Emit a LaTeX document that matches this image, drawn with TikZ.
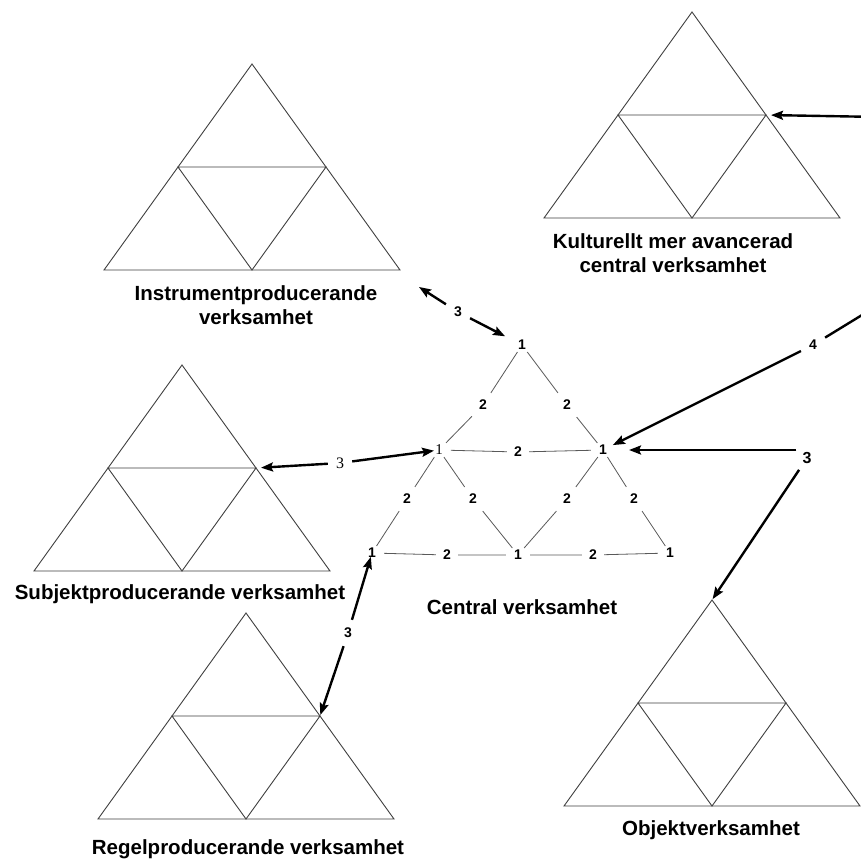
\documentclass[tikz,border=0pt]{standalone}
\usepackage{fontspec}
\setmainfont{Liberation Sans}
\newfontfamily\numserif{Liberation Serif}
\usetikzlibrary{arrows.meta}
\begin{document}
\begin{tikzpicture}[x=1pt,y=-1pt,
  triline/.style={draw=black!75,line width=0.9pt,line join=miter},
  title/.style={font=\fontsize{20.5}{24}\selectfont\bfseries,align=center,inner sep=0pt},
  vnum/.style={font=\fontsize{14}{14}\selectfont\bfseries,inner xsep=8pt,inner ysep=2pt},
  snum/.style={font=\fontsize{15}{15}\selectfont\numserif,inner xsep=8pt,inner ysep=2pt},
  enum/.style={font=\fontsize{14}{14}\selectfont\bfseries,inner sep=7pt},
  cline/.style={draw=black!65,line width=0.8pt},
  arr/.style={draw=black,line width=2.4pt,-{Stealth[length=12pt,width=9pt,inset=2pt]}},
  plainarr/.style={draw=black,line width=2.4pt},
  alab/.style={font=\fontsize{14}{14}\selectfont\bfseries,inner sep=8pt},
  tri/.pic={
    \draw[triline] (0,0) -- (148,206) -- (-148,206) -- cycle;
    \draw[triline] (-74,103) -- (74,103) -- (0,206) -- cycle;
    \coordinate (-top) at (0,0);
    \coordinate (-l) at (-74,103);
    \coordinate (-r) at (74,103);
  }]
\useasboundingbox (0,0) rectangle (860,861);
\fill[white] (0,0) rectangle (860,861);

% surrounding triangles
\pic (I) at (252,64) {tri};
\pic (K) at (692,12) {tri};
\pic (S) at (182,365) {tri};
\pic (R) at (246,613) {tri};
\pic (O) at (712,600) {tri};

% titles
\node[title] (tI) at (256,305) {Instrumentproducerande\\verksamhet};
\node[title] (tK) at (673,253) {Kulturellt mer avancerad\\central verksamhet};
\node[title] (tS) at (180,594) {Subjektproducerande verksamhet};
\node[title] (tC) at (522,607) {Central verksamhet};
\node[title] (tR) at (248,849) {Regelproducerande verksamhet};
\node[title] (tO) at (711,830) {Objektverksamhet};

% central triangle vertices
\node[vnum] (t)  at (522,345) {1};
\node[snum] (ml) at (439,450) {1};
\node[vnum] (mr) at (603,450) {1};
\node[vnum] (bl) at (372,553) {1};
\node[vnum] (bm) at (518,555) {1};
\node[vnum] (br) at (670,553) {1};

% central edge labels
\node[enum] (e1) at (483,405) {2};
\node[enum] (e2) at (567,405) {2};
\node[enum] (e3) at (518,452) {2};
\node[enum] (e4) at (407,499) {2};
\node[enum] (e5) at (473,499) {2};
\node[enum] (e6) at (567,499) {2};
\node[enum] (e7) at (634,499) {2};
\node[enum] (e8) at (447,555) {2};
\node[enum] (e9) at (593,555) {2};

\draw[cline] (t) -- (e1) -- (ml);
\draw[cline] (t) -- (e2) -- (mr);
\draw[cline] (ml) -- (e3) -- (mr);
\draw[cline] (ml) -- (e4) -- (bl);
\draw[cline] (ml) -- (e5) -- (bm);
\draw[cline] (mr) -- (e6) -- (bm);
\draw[cline] (mr) -- (e7) -- (br);
\draw[cline] (bl) -- (e8) -- (bm);
\draw[cline] (bm) -- (e9) -- (br);

% arrow labels
\node[alab] (a3I) at (458,312) {3};
\node[alab,font=\fontsize{16}{16}\selectfont\numserif] (a3S) at (340,463) {3};
\node[alab] (a3R) at (348,633) {3};
\node[alab] (a4) at (813,345) {4};
\node[alab,font=\fontsize{16}{16}\selectfont\bfseries,inner sep=6pt] (a3O) at (807,458) {3};

\coordinate (iend) at (419,287);
\coordinate (ck) at (880,117);
\coordinate (c4) at (880,304);

% arrows
\draw[arr] (a3I) -- (iend);
\draw[arr,shorten >=19pt] (a3I) -- (t.center);
\draw[arr,shorten >=5pt] (ck) -- (K-r);
\draw[plainarr] (c4) -- (a4);
\draw[arr,shorten >=11pt] (a4) -- (mr.center);
\draw[arr,shorten >=26pt] (a3O.west |- mr.center) -- (mr.center);
\draw[arr,shorten >=1pt] (a3O) -- (O-top);
\draw[arr,shorten >=5pt] (a3S) -- (S-r);
\draw[arr,shorten >=5pt] (a3S) -- (ml.center);
\draw[arr,shorten >=1pt] (a3R) -- (R-r);
\draw[arr,shorten >=4pt] (a3R) -- (bl.center);
\end{tikzpicture}
\end{document}
